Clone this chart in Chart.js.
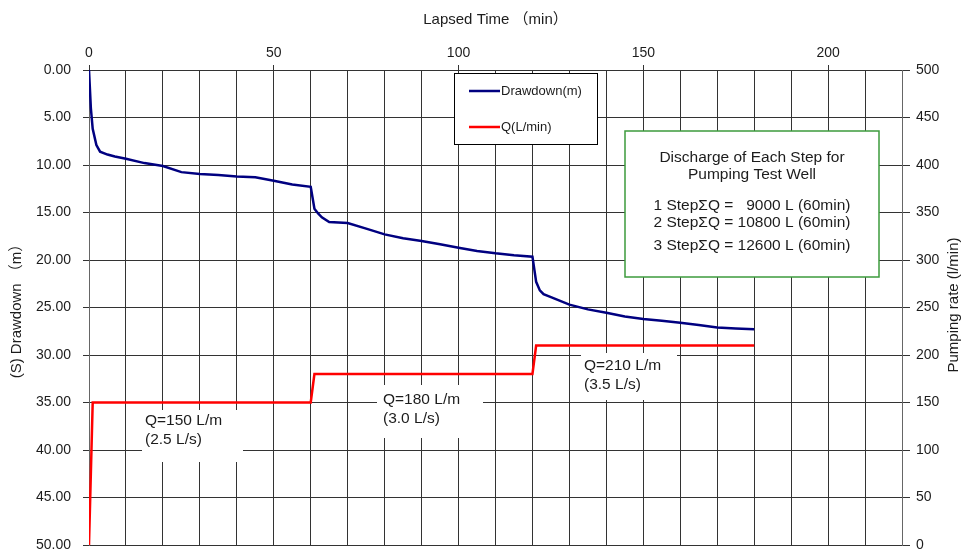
<!DOCTYPE html>
<html>
<head>
<meta charset="utf-8">
<script src="https://cdn.jsdelivr.net/npm/chart.js@4/dist/chart.umd.min.js"></script>
<style>
  html, body { margin: 0; padding: 0; background: #fff; }
  #wrap { width: 965px; height: 550px; }
</style>
</head>
<body>
<div id="wrap"><canvas id="c" width="965" height="550"></canvas></div>
<script>
const FONT = "'Liberation Sans', Arial, 'Noto Sans CJK JP', sans-serif";

// Elapsed time (min) and measured drawdown (m)
const drawTime = [0, 0.5, 1, 2, 3, 5, 7, 10, 15, 20, 25, 30, 35, 40, 45, 50, 55, 60,
                  61, 62, 63, 65, 70, 75, 80, 85, 90, 95, 100, 105, 110, 115, 120,
                  121, 122, 123, 125, 130, 135, 140, 145, 150, 155, 160, 165, 170, 175, 180];
const drawdown = [0, 4.0, 6.2, 7.9, 8.6, 8.9, 9.1, 9.35, 9.8, 10.1, 10.75, 10.95, 11.05, 11.2, 11.3, 11.65, 12.05, 12.3,
                  14.6, 15.1, 15.5, 16.0, 16.1, 16.7, 17.3, 17.7, 18.0, 18.35, 18.7, 19.05, 19.3, 19.5, 19.65,
                  22.3, 23.2, 23.6, 23.9, 24.7, 25.2, 25.55, 25.95, 26.2, 26.4, 26.6, 26.85, 27.1, 27.2, 27.3];

// Pumping-rate schedule (min, L/min)
const rateTime = [0, 1, 60, 61, 120, 121, 180];
const pumpRate = [0, 150, 150, 180, 180, 210, 210];

// Rate of each step and the length of a step (min)
const stepRates = [150, 180, 210];
const stepMinutes = 60;

// Labelled time ticks on the top axis
const xTickLabels = [0, 50, 100, 150, 200];

const GRID = '#333333';
const TEXT = '#1c1c1c';

function labelFont(size) { return size + 'px ' + FONT; }

// Keep the plot frame fixed: no extra room for half-height end labels
function fixPadding(s) {
  s.paddingTop = 0;
  s.paddingBottom = 0;
  s.paddingLeft = 0;
  s.paddingRight = 0;
}

// Legend, step summary box, step labels and the right-hand axis title
const decorations = {
  id: 'decorations',
  beforeDatasetsDraw(chart) {
    const ctx = chart.ctx;
    // Step rate labels on white patches
    const boxes = [
      { x: 142, y: 410, w: 101, h: 52, tx: 145, ty: 421 },
      { x: 377, y: 385, w: 106, h: 53, tx: 383, ty: 400 },
      { x: 581, y: 353, w: 96,  h: 47, tx: 584, ty: 366 }
    ];
    ctx.save();
    boxes.forEach((b, i) => {
      ctx.fillStyle = '#ffffff';
      ctx.fillRect(b.x, b.y, b.w, b.h);
      ctx.fillStyle = TEXT;
      ctx.font = labelFont(15.5);
      ctx.textAlign = 'left';
      ctx.textBaseline = 'middle';
      const q = stepRates[i];
      ctx.fillText('Q=' + q + ' L/m', b.tx, b.ty);
      ctx.fillText('(' + (q / 60).toFixed(1) + ' L/s)', b.tx, b.ty + 19);
    });
    ctx.restore();
  },
  afterDatasetsDraw(chart) {
    const ctx = chart.ctx;
    ctx.save();

    // Legend
    ctx.fillStyle = '#ffffff';
    ctx.fillRect(454.5, 73.5, 143, 71);
    ctx.strokeStyle = '#000000';
    ctx.lineWidth = 1;
    ctx.strokeRect(454.5, 73.5, 143, 71);
    const rows = [91, 127];
    chart.data.datasets.forEach((ds, i) => {
      ctx.strokeStyle = ds.borderColor;
      ctx.lineWidth = 2.5;
      ctx.beginPath();
      ctx.moveTo(469, rows[i]);
      ctx.lineTo(500, rows[i]);
      ctx.stroke();
      ctx.fillStyle = TEXT;
      ctx.font = labelFont(13);
      ctx.textAlign = 'left';
      ctx.textBaseline = 'middle';
      ctx.fillText(ds.label, 501, rows[i]);
    });

    // Step summary box
    ctx.fillStyle = '#ffffff';
    ctx.fillRect(625, 131, 254, 146);
    ctx.strokeStyle = '#3d9b3d';
    ctx.lineWidth = 1.5;
    ctx.strokeRect(625, 131, 254, 146);
    ctx.fillStyle = TEXT;
    ctx.font = labelFont(15.5);
    ctx.textAlign = 'center';
    ctx.textBaseline = 'middle';
    const cx = 752;
    ctx.fillText('Discharge of Each Step for', cx, 158);
    ctx.fillText('Pumping Test Well', cx, 175);
    const lineY = [206, 223, 246];
    stepRates.forEach((q, i) => {
      const total = String(q * stepMinutes);
      const pad = total.length < 5 ? '   ' : ' ';
      ctx.fillText((i + 1) + ' Step\u03A3Q =' + pad + total + ' L (' + stepMinutes + 'min)', cx, lineY[i]);
    });

    // Right axis title, reading bottom to top
    ctx.translate(954, 305);
    ctx.rotate(-Math.PI / 2);
    ctx.font = labelFont(15);
    ctx.fillStyle = TEXT;
    ctx.textAlign = 'center';
    ctx.textBaseline = 'middle';
    ctx.fillText('Pumping rate (l/min)', 0, 0);
    ctx.restore();
  }
};

new Chart(document.getElementById('c'), {
  type: 'line',
  data: {
    datasets: [
      {
        label: 'Drawdown(m)',
        data: drawTime.map((t, i) => ({ x: t, y: drawdown[i] })),
        borderColor: '#000080',
        borderWidth: 2.5,
        pointRadius: 0,
        tension: 0,
        yAxisID: 'y'
      },
      {
        label: 'Q(L/min)',
        data: rateTime.map((t, i) => ({ x: t, y: pumpRate[i] })),
        borderColor: '#ff0000',
        borderWidth: 2.5,
        pointRadius: 0,
        tension: 0,
        yAxisID: 'y1'
      }
    ]
  },
  options: {
    responsive: false,
    animation: false,
    devicePixelRatio: 1,
    layout: { padding: { top: 0, left: 0, right: 0, bottom: 5 } },
    plugins: {
      legend: { display: false },
      tooltip: { enabled: false }
    },
    scales: {
      x: {
        type: 'linear',
        position: 'top',
        min: 0,
        max: 220,
        ticks: {
          stepSize: 10,
          autoSkip: false,
          maxRotation: 0,
          padding: 3,
          color: TEXT,
          font: { family: FONT, size: 14 },
          callback: v => xTickLabels.includes(v) ? String(v) : ''
        },
        grid: {
          color: GRID,
          tickLength: 5,
          tickColor: c => (c.tick && xTickLabels.includes(c.tick.value)) ? GRID : 'rgba(0,0,0,0)'
        },
        border: { color: GRID },
        title: {
          display: true,
          text: 'Lapsed Time （min）',
          color: TEXT,
          font: { family: FONT, size: 15 },
          padding: { top: 11, bottom: 0 }
        },
        afterFit: s => { s.height = 70; fixPadding(s); }
      },
      y: {
        position: 'left',
        reverse: true,
        min: 0,
        max: 50,
        ticks: {
          stepSize: 5,
          padding: 12,
          color: TEXT,
          font: { family: FONT, size: 14 },
          callback: v => Number(v).toFixed(2)
        },
        grid: { color: GRID, tickLength: 6 },
        border: { color: '#666666' },
        title: {
          display: true,
          text: '(S) Drawdown （m）',
          color: TEXT,
          font: { family: FONT, size: 15 },
          padding: { top: 8, bottom: 0 }
        },
        afterFit: s => { s.width = 89; fixPadding(s); }
      },
      y1: {
        position: 'right',
        min: 0,
        max: 500,
        ticks: {
          stepSize: 50,
          padding: 6,
          color: TEXT,
          font: { family: FONT, size: 14 }
        },
        grid: { drawOnChartArea: false, color: GRID, tickLength: 8 },
        border: { color: '#666666' },
        afterFit: s => { s.width = 63; fixPadding(s); }
      }
    }
  },
  plugins: [decorations]
});
</script>
</body>
</html>
